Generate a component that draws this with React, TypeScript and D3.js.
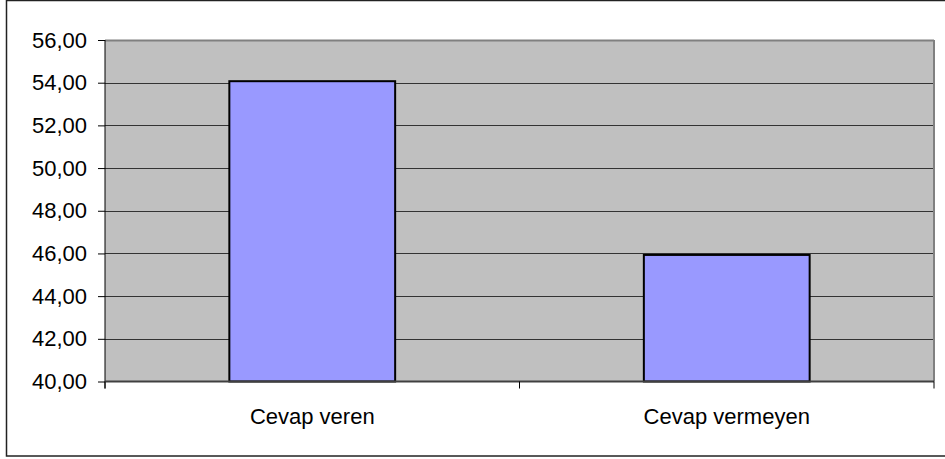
import React, { useRef, useEffect } from 'react';
import * as d3 from 'd3';

const categories = ['Cevap veren', 'Cevap vermeyen'];
const values = [54.07, 45.93];
const yTicks = [40, 42, 44, 46, 48, 50, 52, 54, 56];

const App = () => {
  const svgRef = useRef<SVGSVGElement>(null);

  useEffect(() => {
    const svg = d3.select(svgRef.current);
    svg.selectAll('*').remove();

    const width = 945;
    const height = 459;
    const margin = { top: 40, right: 11, bottom: 77.5, left: 105 };
    const font = 'Arial, "Liberation Sans", sans-serif';

    // outer chart frame
    svg.append('rect')
      .attr('x', 6.5).attr('y', 0.5)
      .attr('width', 960).attr('height', 455.5)
      .attr('fill', '#fff')
      .attr('stroke', '#222').attr('stroke-width', 1.5);

    const x = d3.scaleBand()
      .domain(categories)
      .range([margin.left, width - margin.right])
      .paddingInner(0.6)
      .paddingOuter(0.3);

    const y = d3.scaleLinear()
      .domain([40, 56])
      .range([height - margin.bottom, margin.top]);

    const x0 = margin.left, x1 = width - margin.right;
    const yTop = y(56), yBot = y(40);

    // plot area
    svg.append('rect')
      .attr('x', x0).attr('y', yTop)
      .attr('width', x1 - x0).attr('height', yBot - yTop)
      .attr('fill', '#c0c0c0');

    // gridlines
    svg.append('g')
      .selectAll('line')
      .data(yTicks.filter(d => d > 40))
      .join('line')
      .attr('x1', x0).attr('x2', x1)
      .attr('y1', d => Math.round(y(d)) + 0.5)
      .attr('y2', d => Math.round(y(d)) + 0.5)
      .attr('stroke', d => d === 56 ? '#808080' : '#333')
      .attr('stroke-width', d => d === 56 ? 2 : 1.2);

    // right border of plot area
    svg.append('line')
      .attr('x1', x1).attr('x2', x1)
      .attr('y1', yTop).attr('y2', yBot)
      .attr('stroke', '#808080').attr('stroke-width', 2);

    // bars
    svg.append('g')
      .selectAll('rect')
      .data(values)
      .join('rect')
      .attr('x', (d, i) => x(categories[i])!)
      .attr('y', d => y(d))
      .attr('width', x.bandwidth())
      .attr('height', d => yBot - y(d))
      .attr('fill', '#9999ff')
      .attr('stroke', '#000')
      .attr('stroke-width', 2);

    // y axis
    const yAxisG = svg.append('g')
      .attr('transform', `translate(${x0},0)`)
      .call(d3.axisLeft(y).tickValues(yTicks).tickSize(7).tickPadding(11)
        .tickFormat(d => d3.format('.2f')(d as number).replace('.', ',')));
    yAxisG.select('.domain').remove();
    yAxisG.selectAll('.tick line').attr('stroke', '#000');
    yAxisG.selectAll('text')
      .attr('font-family', font)
      .attr('font-size', 22)
      .attr('fill', '#000');
    yAxisG.append('line')
      .attr('x1', 0).attr('x2', 0)
      .attr('y1', yTop).attr('y2', yBot + 7)
      .attr('stroke', '#000').attr('stroke-width', 1);

    // x axis
    const xTicks = [x0, (x0 + x1) / 2, x1];
    svg.append('line')
      .attr('x1', x0).attr('x2', x1)
      .attr('y1', yBot).attr('y2', yBot)
      .attr('stroke', '#404040').attr('stroke-width', 2);
    svg.append('g')
      .selectAll('line')
      .data(xTicks)
      .join('line')
      .attr('x1', d => d).attr('x2', d => d)
      .attr('y1', yBot).attr('y2', yBot + 7)
      .attr('stroke', '#000');

    svg.append('g')
      .selectAll('text')
      .data(categories)
      .join('text')
      .attr('x', d => x(d)! + x.bandwidth() / 2)
      .attr('y', 424)
      .attr('text-anchor', 'middle')
      .attr('font-family', font)
      .attr('font-size', 22)
      .attr('fill', '#000')
      .text(d => d);
  }, []);

  return (
    <div style={{ position: 'absolute', left: 0, top: 0 }}>
      <svg ref={svgRef} width={945} height={459} style={{ display: 'block' }}></svg>
    </div>
  );
};

export default App;
